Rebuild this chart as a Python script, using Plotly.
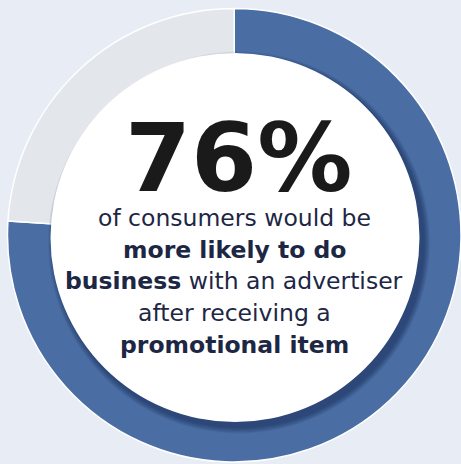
import plotly.graph_objects as go

# Survey share shown in the ring
labels = ["More likely to do business", "Other"]
values = [76, 24]
colors = ["#4a6ea4", "#e3e7eb"]

headline = "76%"
body_lines = [
    "of consumers would be",
    "<b>more likely to do</b>",
    "<b>business</b> with an advertiser",
    "after receiving a",
    "<b>promotional item</b>",
]

W, H = 461, 464
BG = "#e8ecf4"
TEXT = "#1d2744"

fig = go.Figure()

fig.add_trace(go.Pie(
    labels=labels,
    values=values,
    marker=dict(colors=colors, line=dict(color="white", width=1.5)),
    hole=0.76,
    sort=False,
    direction="clockwise",
    rotation=0,
    textinfo="none",
    hoverinfo="skip",
    showlegend=False,
    domain=dict(x=[7.5 / W, 1.0], y=[1 - 462 / H, 1 - 8.5 / H]),
))

# centre disc with a soft drop shadow toward the lower right
cx, cy, r = 235.0, 237.5, 184.5
shapes = []
for i in range(8, 0, -1):
    rr = r + i * 0.8
    shapes.append(dict(
        type="circle", xref="x", yref="y", layer="above",
        x0=cx + 4 - rr, x1=cx + 4 + rr, y0=cy + 5 - rr, y1=cy + 5 + rr,
        fillcolor="rgba(20,35,70,0.07)", line=dict(width=0),
    ))
shapes.append(dict(
    type="circle", xref="x", yref="y", layer="above",
    x0=cx - r, x1=cx + r, y0=cy - r, y1=cy + r,
    fillcolor="white", line=dict(width=0),
))

annotations = [dict(
    x=238, y=158, xref="x", yref="y", text=f"<b>{headline}</b>",
    showarrow=False, xanchor="center", yanchor="middle",
    font=dict(family="DejaVu Sans", size=95, color="#1a1a1a"),
)]
line_y = [218, 250, 281, 313, 345]
for txt, y in zip(body_lines, line_y):
    annotations.append(dict(
        x=234, y=y, xref="x", yref="y", text=txt,
        showarrow=False, xanchor="center", yanchor="middle",
        font=dict(family="DejaVu Sans", size=23.5, color=TEXT),
    ))

fig.update_layout(
    width=W, height=H,
    margin=dict(l=0, r=0, t=0, b=0),
    paper_bgcolor=BG, plot_bgcolor="rgba(0,0,0,0)",
    xaxis=dict(range=[0, W], visible=False, fixedrange=True),
    yaxis=dict(range=[H, 0], visible=False, fixedrange=True),
    shapes=shapes,
    annotations=annotations,
)

fig.write_html("out.html")
